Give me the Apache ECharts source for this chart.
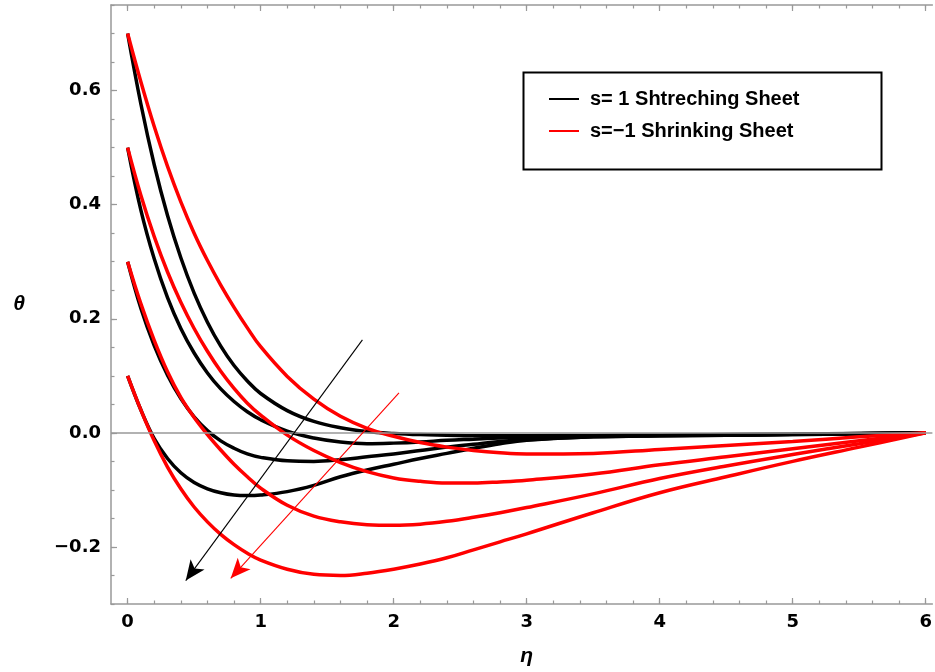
<!DOCTYPE html>
<html><head><meta charset="utf-8">
<script src="https://cdn.jsdelivr.net/npm/echarts@6/dist/echarts.min.js"></script>
<style>html,body{margin:0;padding:0;background:#fff}#c{width:935px;height:672px}</style>
</head><body><div id="c"></div>
<script>
// ---------- data ----------
const eta = [0,0.1,0.2,0.3,0.4,0.5,0.6,0.7,0.8,0.9,1.0, 1.2,1.4,1.6,1.8,2.0,2.2,2.4,2.6,2.8,3.0, 3.5,4.0,4.5,5.0,5.5,6.0];

// s = 1 (stretching sheet), black
const stretch01 = [0.10,0.04,-0.01,-0.045,-0.07,-0.087,-0.098,-0.105,-0.109,-0.11,-0.109, -0.103,-0.092,-0.077,-0.065,-0.055,-0.045,-0.036,-0.027,-0.019,-0.013, -0.007,-0.005,-0.004,-0.003,-0.0015,0];
const stretch03 = [0.30,0.218,0.153,0.101,0.060,0.028,0.004,-0.014,-0.027,-0.037,-0.043, -0.049,-0.05,-0.047,-0.042,-0.037,-0.031,-0.025,-0.02,-0.015,-0.012, -0.007,-0.005,-0.004,-0.003,-0.0015,0];
const stretch05 = [0.50,0.39,0.305,0.237,0.183,0.140,0.105,0.077,0.055,0.037,0.023, 0.003,-0.009,-0.016,-0.019,-0.018,-0.016,-0.013,-0.011,-0.009,-0.0075, -0.005,-0.0045,-0.0035,-0.0025,-0.0012,0];
const stretch07 = [0.70,0.576,0.470,0.381,0.307,0.245,0.194,0.152,0.118,0.091,0.069, 0.039,0.020,0.009,0.0024,-0.001,-0.003,-0.004,-0.005,-0.005,-0.005, -0.0045,-0.004,-0.003,-0.002,-0.001,0];

// s = -1 (shrinking sheet), red
const shrink01 = [0.10,0.04,-0.014,-0.06,-0.098,-0.13,-0.156,-0.178,-0.196,-0.211,-0.223, -0.239,-0.248,-0.25,-0.246,-0.239,-0.230,-0.219,-0.205,-0.191,-0.177, -0.14,-0.105,-0.077,-0.05,-0.025,0];
const shrink03 = [0.30,0.226,0.162,0.107,0.062,0.027,-0.003,-0.03,-0.055,-0.077,-0.097, -0.127,-0.146,-0.156,-0.161,-0.162,-0.16,-0.155,-0.148,-0.14,-0.131, -0.107,-0.08,-0.058,-0.038,-0.019,0];
const shrink05 = [0.50,0.416,0.344,0.282,0.229,0.183,0.143,0.108,0.078,0.052,0.031, -0.004,-0.031,-0.052,-0.068,-0.079,-0.085,-0.088,-0.088,-0.086,-0.083, -0.072,-0.056,-0.042,-0.028,-0.014,0];
const shrink07 = [0.70,0.615,0.537,0.467,0.405,0.350,0.302,0.259,0.220,0.184,0.151, 0.099,0.059,0.029,0.008,-0.006,-0.017,-0.025,-0.031,-0.035,-0.037, -0.036,-0.029,-0.022,-0.015,-0.007,0];

// arrows (start -> end) in data coordinates
const blackArrow = [[1.765, 0.163], [0.437, -0.259]];
const redArrow = [[2.04, 0.07], [0.775, -0.255]];

// ticks
const xMajorTicks = [0,1,2,3,4,5,6];
const xMinorTicks = [0,0.2,0.4,0.6,0.8,1,1.2,1.4,1.6,1.8,2,2.2,2.4,2.6,2.8,3,3.2,3.4,3.6,3.8,4,4.2,4.4,4.6,4.8,5,5.2,5.4,5.6,5.8,6];
const yMajorTicks = [-0.2,0,0.2,0.4,0.6];
const yMinorTicks = [-0.3,-0.25,-0.2,-0.15,-0.1,-0.05,0,0.05,0.1,0.15,0.2,0.25,0.3,0.35,0.4,0.45,0.5,0.55,0.6,0.65,0.7,0.75];

const nameStretch = 's= 1 Shtreching Sheet';
const nameShrink = 's=\u22121 Shrinking Sheet';

// ---------- chart ----------
const chart = echarts.init(document.getElementById('c'), null, {renderer: 'canvas'});
const X_MIN = -0.125, X_MAX = 6.05, Y_MIN = -0.3, Y_MAX = 0.75;
const axisGray = '#999999';
const tickFont = {color: '#000', fontFamily: 'DejaVu Sans', fontWeight: 'bold', fontSize: 18};

function mkX(pos, ticks, len, labels, line) {
  return {
    type: 'value', position: pos, min: X_MIN, max: X_MAX,
    axisLine: {show: line, onZero: false, lineStyle: {color: axisGray, width: 1.5}},
    axisTick: {show: true, inside: true, length: len, customValues: ticks, lineStyle: {color: axisGray, width: 1.2}},
    axisLabel: labels ? Object.assign({show: true, customValues: xMajorTicks, margin: 9, formatter: v => String(Math.round(v))}, tickFont) : {show: false},
    splitLine: {show: false}
  };
}
function mkY(ticks, len, labels, line) {
  return {
    type: 'value', position: 'left', min: Y_MIN, max: Y_MAX,
    axisLine: {show: line, onZero: false, lineStyle: {color: axisGray, width: 1.5}},
    axisTick: {show: true, inside: true, length: len, customValues: ticks, lineStyle: {color: axisGray, width: 1.2}},
    axisLabel: labels ? Object.assign({show: true, customValues: yMajorTicks, margin: 10,
      formatter: v => (v < -1e-9 ? '\u2212' : '') + Math.abs(v).toFixed(1)}, tickFont) : {show: false},
    splitLine: {show: false}
  };
}

const xAxes = [mkX('bottom', xMajorTicks, 6, true, true), mkX('bottom', xMinorTicks, 3.5, false, false),
               mkX('top', xMajorTicks, 6, false, true), mkX('top', xMinorTicks, 3.5, false, false)];
xAxes[0].name = '\u03b7';
xAxes[0].nameLocation = 'middle';
xAxes[0].nameGap = 42;
xAxes[0].nameTextStyle = {fontFamily: 'Liberation Sans', fontWeight: 'bold', fontStyle: 'italic', fontSize: 21, color: '#000', padding: [0, 0, 0, 10]};

const yAxes = [mkY(yMajorTicks, 6, true, true), mkY(yMinorTicks, 3.5, false, false)];
yAxes[0].name = '\u03b8';
yAxes[0].nameLocation = 'middle';
yAxes[0].nameRotate = 0;
yAxes[0].nameGap = 86;
yAxes[0].nameTextStyle = {fontFamily: 'Liberation Sans', fontWeight: 'bold', fontStyle: 'italic', fontSize: 21, color: '#000', padding: [0, 0, 8, 0]};

function curve(name, vals, color) {
  return {
    type: 'line', name: name, xAxisIndex: 0, yAxisIndex: 0, z: 3,
    data: eta.map((x, i) => [x, vals[i]]),
    smooth: 0.4, showSymbol: false, symbol: 'none',
    lineStyle: {color: color, width: 3.5}, itemStyle: {color: color},
    emphasis: {disabled: true}, animation: false
  };
}

function arrow(pts, color) {
  return {type: 'line', data: [], xAxisIndex: 0, yAxisIndex: 0, z: 4, silent: true,
    markLine: {silent: true, symbol: ['none', 'arrow'], symbolSize: [13, 20], animation: false, label: {show: false},
      lineStyle: {color: color, width: 1.1, type: 'solid'}, itemStyle: {color: color},
      data: [[{coord: pts[0]}, {coord: pts[1]}]]}};
}

const series = [
  {type: 'line', data: [], xAxisIndex: 0, yAxisIndex: 0, z: 1, silent: true,
   markLine: {silent: true, symbol: 'none', animation: false, label: {show: false},
     lineStyle: {color: axisGray, width: 1.5, type: 'solid'}, data: [{yAxis: 0}]}},
  curve(nameStretch, stretch01, '#000000'),
  curve(nameStretch, stretch03, '#000000'),
  curve(nameStretch, stretch05, '#000000'),
  curve(nameStretch, stretch07, '#000000'),
  curve(nameShrink, shrink01, '#ff0000'),
  curve(nameShrink, shrink03, '#ff0000'),
  curve(nameShrink, shrink05, '#ff0000'),
  curve(nameShrink, shrink07, '#ff0000'),
  arrow(blackArrow, '#000000'),
  arrow(redArrow, '#ff0000')
];

chart.setOption({
  animation: false,
  backgroundColor: '#fff',
  grid: {left: 111, top: 5, width: 823, height: 602, containLabel: false},
  xAxis: xAxes,
  yAxis: yAxes,
  legend: {
    left: 544, top: 84, orient: 'vertical', itemWidth: 30, itemHeight: 2, itemGap: 12,
    selectedMode: false,
    data: [{name: nameStretch, icon: 'rect', itemStyle: {color: '#000'}},
           {name: nameShrink, icon: 'rect', itemStyle: {color: '#ff0000'}}],
    textStyle: {fontFamily: 'Liberation Sans', fontWeight: 'bold', fontSize: 20, color: '#000', lineHeight: 20, padding: [0, 0, 0, 6]}
  },
  graphic: [{type: 'rect', left: 521, top: 70, z: 10, silent: true,
    shape: {width: 358, height: 97}, style: {fill: 'none', stroke: '#000', lineWidth: 2}}],
  series: series
});
</script></body></html>
